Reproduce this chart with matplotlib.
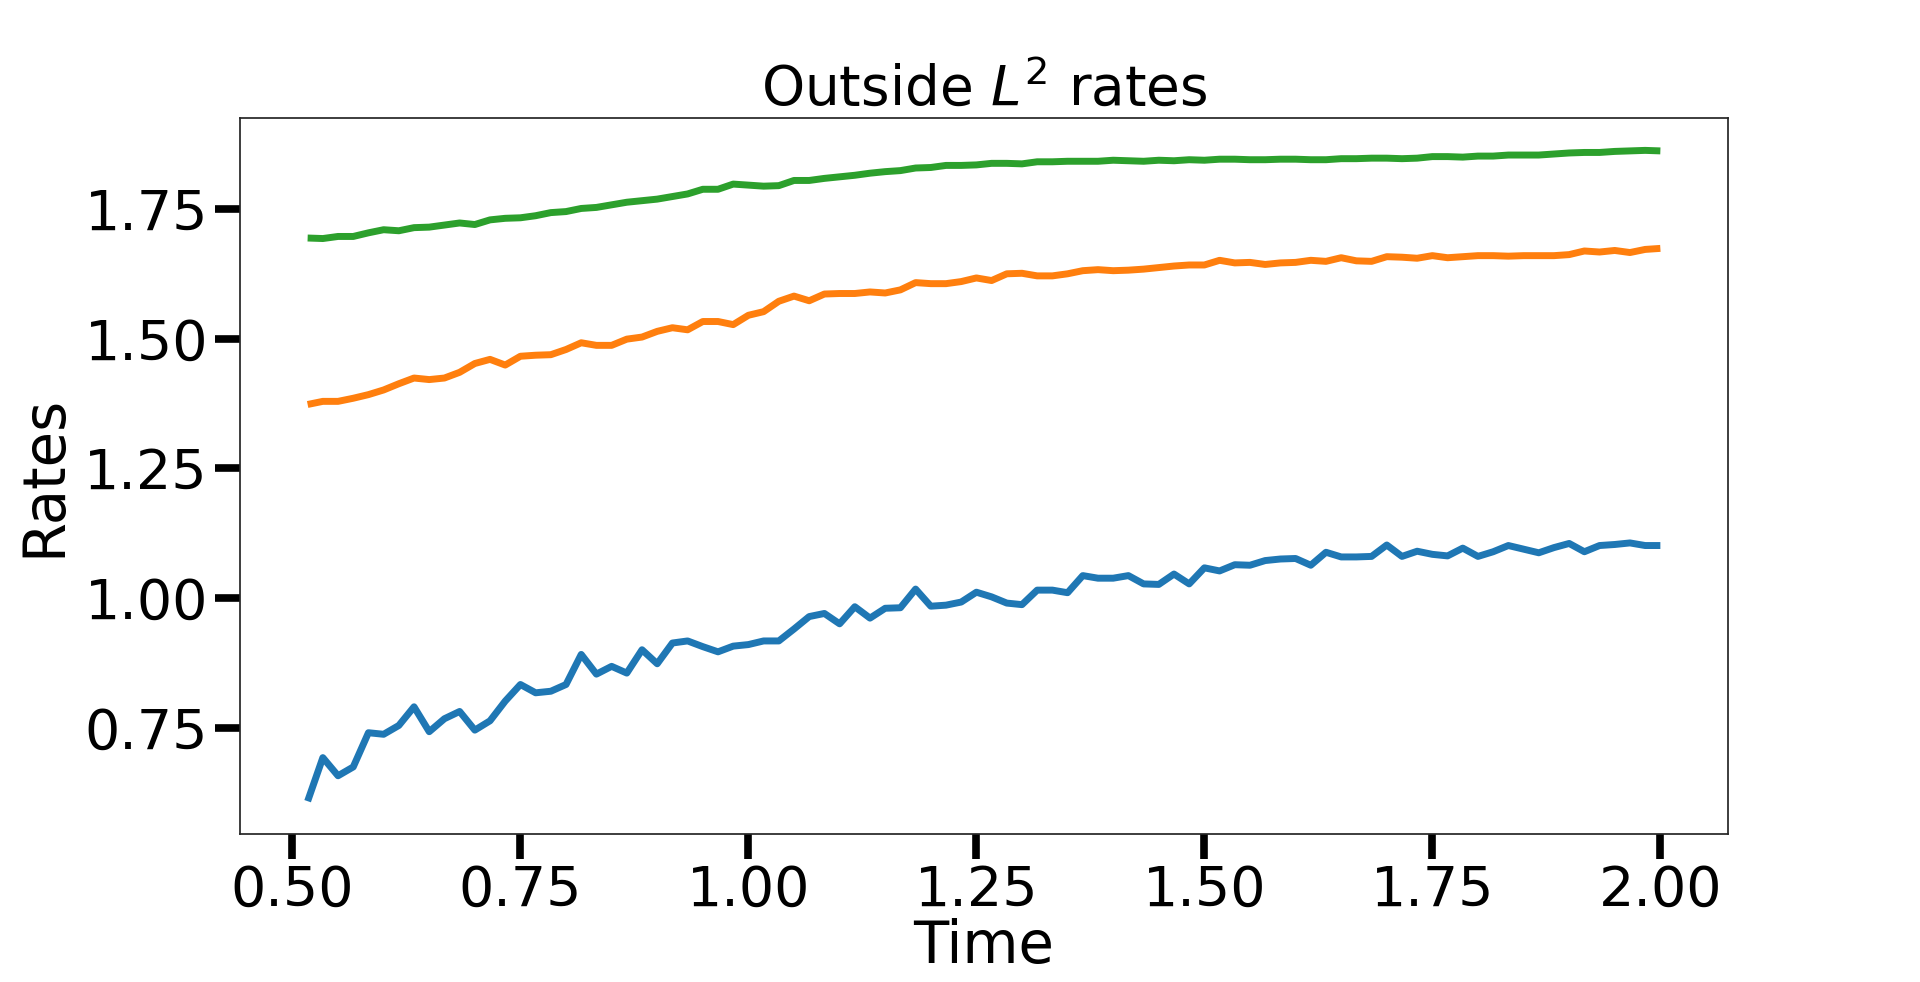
import numpy as np
import matplotlib
matplotlib.use("Agg")
import matplotlib.pyplot as plt

plt.rcParams['font.family'] = ['DejaVu Sans']

# Time grid (step 1/60 from 31/60 to 2.0)
time = np.arange(31, 121) / 60.0

rate_blue = [
    0.608, 0.692, 0.657, 0.674, 0.740, 0.737, 0.754, 0.790, 0.742, 0.767,
    0.781, 0.745, 0.763, 0.801, 0.833, 0.817, 0.820, 0.833, 0.891, 0.853,
    0.868, 0.855, 0.900, 0.873, 0.913, 0.917, 0.906, 0.896, 0.907, 0.910,
    0.917, 0.917, 0.940, 0.964, 0.970, 0.950, 0.983, 0.961, 0.980, 0.981,
    1.017, 0.984, 0.986, 0.992, 1.011, 1.002, 0.990, 0.987, 1.015, 1.015,
    1.010, 1.043, 1.038, 1.038, 1.043, 1.027, 1.026, 1.046, 1.027, 1.058,
    1.052, 1.064, 1.063, 1.072, 1.075, 1.076, 1.063, 1.088, 1.079, 1.079,
    1.080, 1.102, 1.080, 1.090, 1.084, 1.081, 1.096, 1.080, 1.089, 1.101,
    1.094, 1.087, 1.097, 1.105, 1.089, 1.101, 1.103, 1.106, 1.101, 1.101,
]

rate_orange = [
    1.373, 1.379, 1.379, 1.385, 1.392, 1.401, 1.413, 1.424, 1.421, 1.424,
    1.435, 1.452, 1.460, 1.449, 1.466, 1.468, 1.469, 1.479, 1.492, 1.487,
    1.487, 1.499, 1.503, 1.514, 1.521, 1.517, 1.533, 1.533, 1.527, 1.545,
    1.552, 1.572, 1.582, 1.573, 1.586, 1.587, 1.587, 1.590, 1.588, 1.594,
    1.608, 1.606, 1.606, 1.610, 1.617, 1.612, 1.625, 1.626, 1.621, 1.621,
    1.625, 1.631, 1.633, 1.631, 1.632, 1.634, 1.637, 1.640, 1.642, 1.642,
    1.651, 1.646, 1.647, 1.643, 1.646, 1.647, 1.651, 1.649, 1.656, 1.650,
    1.649, 1.658, 1.657, 1.655, 1.660, 1.656, 1.658, 1.660, 1.660, 1.659,
    1.660, 1.660, 1.660, 1.662, 1.669, 1.667, 1.670, 1.666, 1.672, 1.674,
]

rate_green = [
    1.694, 1.693, 1.697, 1.697, 1.704, 1.710, 1.708, 1.714, 1.715, 1.719,
    1.723, 1.720, 1.729, 1.732, 1.733, 1.737, 1.743, 1.745, 1.751, 1.753,
    1.758, 1.763, 1.766, 1.769, 1.774, 1.779, 1.788, 1.788, 1.798, 1.796,
    1.794, 1.795, 1.805, 1.805, 1.809, 1.812, 1.815, 1.819, 1.822, 1.824,
    1.829, 1.830, 1.834, 1.834, 1.835, 1.838, 1.838, 1.837, 1.841, 1.841,
    1.842, 1.842, 1.842, 1.844, 1.843, 1.842, 1.844, 1.843, 1.845, 1.844,
    1.846, 1.846, 1.845, 1.845, 1.846, 1.846, 1.845, 1.845, 1.847, 1.847,
    1.848, 1.848, 1.847, 1.848, 1.851, 1.851, 1.850, 1.852, 1.852, 1.854,
    1.854, 1.854, 1.856, 1.858, 1.859, 1.859, 1.861, 1.862, 1.863, 1.862,
]

series = [
    (rate_blue, '#1f77b4'),
    (rate_orange, '#ff7f0e'),
    (rate_green, '#2ca02c'),
]

fig = plt.figure(figsize=(19.2, 9.82), dpi=100)
ax = fig.add_axes([0.125, 0.151, 0.775, 0.729])

for vals, col in series:
    ax.plot(time, vals, color=col, linewidth=5, solid_capstyle='butt')

ax.set_xticks([0.5, 0.75, 1.0, 1.25, 1.5, 1.75, 2.0])
ax.set_yticks([0.75, 1.0, 1.25, 1.5, 1.75])

ax.tick_params(axis='both', which='major', length=18, width=5.5,
               labelsize=40, pad=4, color='black', labelcolor='black')
ax.tick_params(axis='y', pad=5)
for sp in ax.spines.values():
    sp.set_linewidth(1.25)
    sp.set_color('#262626')

ax.set_title('Outside $L^2$ rates', fontsize=39.5, pad=8)
ax.set_xlabel('Time', fontsize=41.5, labelpad=0)
ax.set_ylabel('Rates', fontsize=41.5, labelpad=9)

fig.savefig('out.png', dpi=100, facecolor='white')
